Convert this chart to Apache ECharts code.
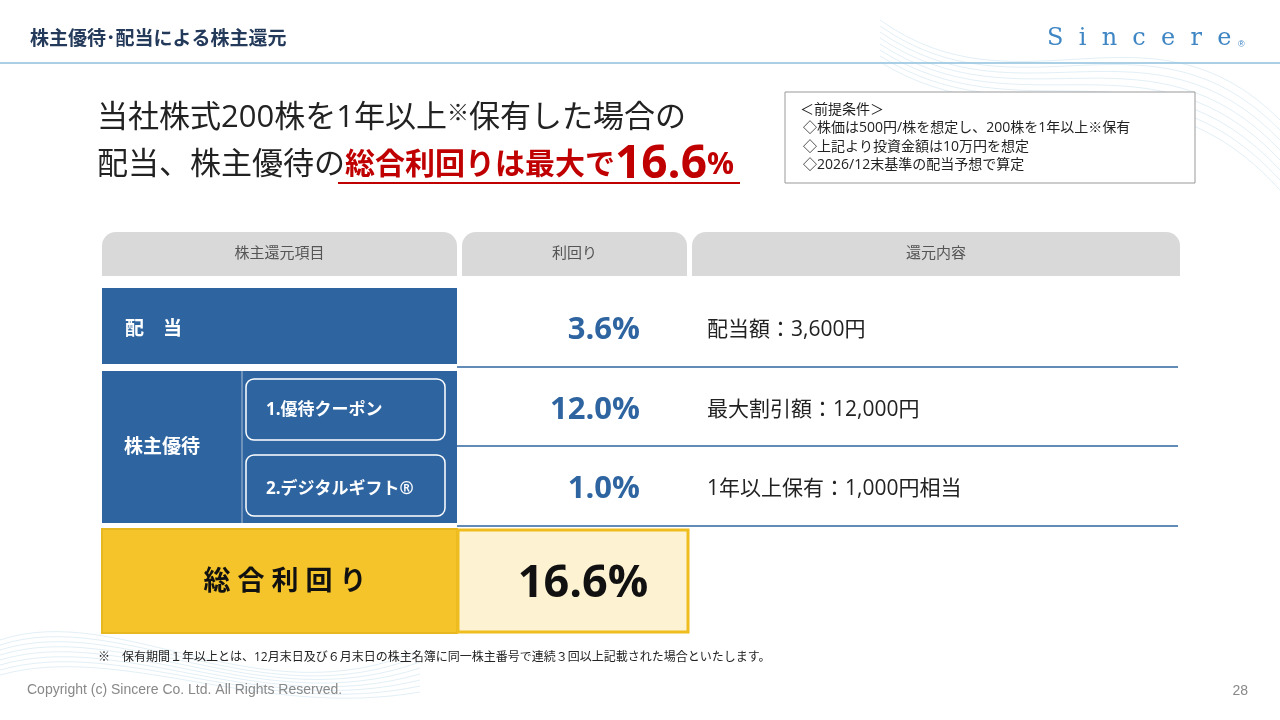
<!DOCTYPE html>
<html><head><meta charset="utf-8">
<script src="https://cdn.jsdelivr.net/npm/echarts@6/dist/echarts.min.js"></script>
<style>html,body{margin:0;padding:0;background:#fff}#c{width:1280px;height:720px}</style>
</head><body><div id="c"></div>
<script>
const headers = ['株主還元項目', '利回り', '還元内容'];
const rowLabels = ['配　当', '株主優待'];
const subItems = ['1.優待クーポン', '2.デジタルギフト®'];
const yields = ['3.6%', '12.0%', '1.0%'];
const contents = ['配当額：3,600円', '最大割引額：12,000円', '1年以上保有：1,000円相当'];
const totalLabel = '総 合 利 回 り';
const totalYield = '16.6%';
const conditions = ['＜前提条件＞', '◇株価は500円/株を想定し、200株を1年以上※保有', '◇上記より投資金額は10万円を想定', '◇2026/12末基準の配当予想で算定'];

const F = '"Open Sans","Noto Sans CJK JP",sans-serif';
const BLUE = '#2e64a0';
const g = [];
function txt(x, y, t, s, o) { g.push({type:'text', x, y, style:Object.assign({text:t, font:(o&&o.w||'normal')+' '+s+'px '+F, fill:'#222', textVerticalAlign:'middle'}, o||{})}); }
function rect(x, y, w, h, st, r) { g.push({type:'rect', shape:{x, y, width:w, height:h, r:r||0}, style:st}); }
function line(x1, y1, x2, y2, st) { g.push({type:'line', shape:{x1, y1, x2, y2}, style:st}); }

for (let i = 0; i < 8; i++) {
  g.push({type:'bezierCurve', shape:{x1:880, y1:20+i*6, cpx1:1020, cpy1:120+i*4, cpx2:1150, cpy2:-10+i*8, x2:1280, y2:120+i*10}, style:{stroke:'rgba(140,190,220,0.25)', lineWidth:1, fill:null}});
  g.push({type:'bezierCurve', shape:{x1:0, y1:640+i*5, cpx1:120, cpy1:600+i*6, cpx2:260, cpy2:720, x2:420, y2:650+i*6}, style:{stroke:'rgba(140,190,220,0.25)', lineWidth:1, fill:null}});
}
txt(30, 40, '株主優待･配当による株主還元', 19, {w:'bold', fill:'#243a5a'});
line(0, 63, 1280, 63, {stroke:'#8fc1de', lineWidth:1.5});
txt(1047, 39, 'S  i  n  c  e  r  e', 24, {fill:'#3f86c4', font:'24px "DejaVu Serif",serif'});
txt(1238, 45, '®', 9, {fill:'#3f86c4', font:'9px sans-serif'});

g.push({type:'text', x:97, y:118, style:{text:'{a|当社株式200株を1年以上}{s|※}{a|保有した場合の}', textVerticalAlign:'middle',
  rich:{a:{font:'31px '+F, fill:'#222'}, s:{font:'22px '+F, fill:'#222', verticalAlign:'top'}}}});
g.push({type:'text', x:97, y:165, style:{text:'{a|配当、株主優待の}{b|総合利回りは最大で}{c|16.6}{d|%}', textVerticalAlign:'middle',
  rich:{a:{font:'31px '+F, fill:'#222'}, b:{font:'bold 30px '+F, fill:'#c00000'}, c:{font:'bold 46px '+F, fill:'#c00000'}, d:{font:'bold 30px '+F, fill:'#c00000'}}}});
line(338, 183, 740, 183, {stroke:'#c00000', lineWidth:2});

rect(785, 92, 410, 91, {fill:'#fff', stroke:'#999', lineWidth:1});
conditions.forEach((c, i) => txt(i===0?800:803, 110+i*18.5, c, 14));

const hc = [[102,355],[462,225],[692,488]];
headers.forEach((h, i) => { rect(hc[i][0], 232, hc[i][1], 44, {fill:'#d9d9d9'}, [14,14,0,0]); txt(hc[i][0]+hc[i][1]/2, 254, h, 15, {fill:'#555', textAlign:'center'}); });

rect(102, 288, 355, 76, {fill:BLUE});
txt(125, 330, rowLabels[0], 19, {w:'bold', fill:'#fff'});
rect(102, 371, 355, 152, {fill:BLUE});
line(242, 371, 242, 523, {stroke:'#fff', lineWidth:1, opacity:0.6});
txt(124, 448, rowLabels[1], 19, {w:'bold', fill:'#fff'});
subItems.forEach((s, i) => { rect(246, 379+i*76, 199, 61, {fill:BLUE, stroke:'#fff', lineWidth:1.5}, 8); txt(266, 410+i*79, s, 17, {w:'bold', fill:'#fff'}); });
const ry = [330, 410, 489];
yields.forEach((v, i) => txt(640, ry[i], v, 31, {w:'bold', fill:BLUE, textAlign:'right'}));
contents.forEach((c, i) => txt(707, ry[i], c, 21));
[367, 446, 526].forEach(y => line(457, y, 1178, y, {stroke:BLUE, lineWidth:1.5}));

rect(102, 529, 355, 104, {fill:'#f5c42a', stroke:'#e8b820', lineWidth:2});
txt(285, 582, totalLabel, 27, {w:'bold', fill:'#111', textAlign:'center'});
rect(458, 530, 230, 102, {fill:'#fdf2d2', stroke:'#f0bd1e', lineWidth:3});
txt(583, 584, totalYield, 45, {w:'bold', fill:'#111', textAlign:'center'});

txt(98, 658, '※　保有期間１年以上とは、12月末日及び６月末日の株主名簿に同一株主番号で連続３回以上記載された場合といたします。', 12);
txt(27, 690, 'Copyright (c) Sincere Co. Ltd. All Rights Reserved.', 14, {fill:'#888', font:'14px "Liberation Sans",sans-serif'});
txt(1248, 691, '28', 14, {fill:'#888', textAlign:'right', font:'14px "Liberation Sans",sans-serif'});

const chart = echarts.init(document.getElementById('c'));
chart.setOption({backgroundColor:'#fff', graphic:g});
</script></body></html>
